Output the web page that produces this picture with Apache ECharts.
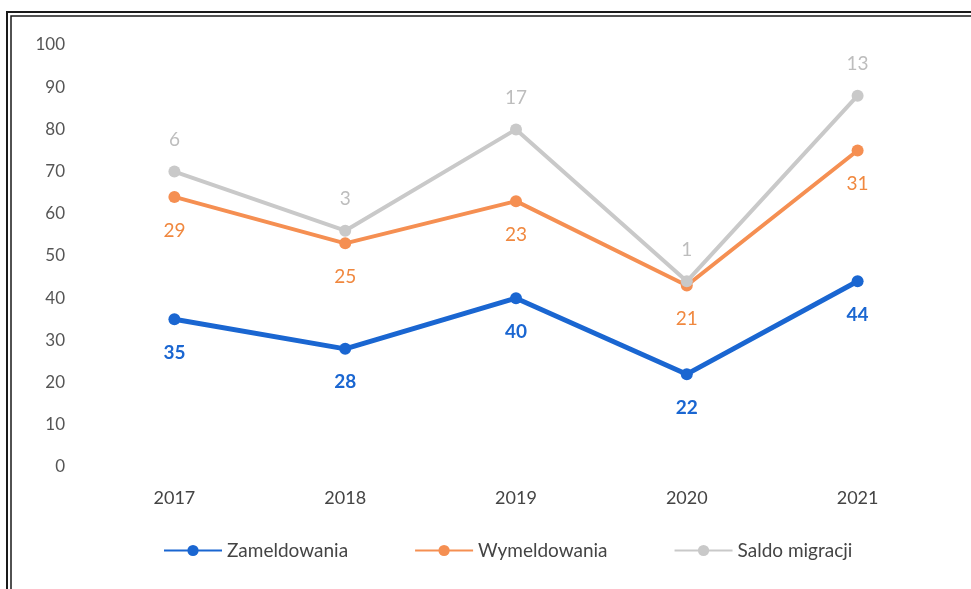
<!DOCTYPE html>
<html>
<head>
<meta charset="utf-8">
<script src="https://cdn.jsdelivr.net/npm/echarts@6/dist/echarts.min.js"></script>
<style>
  html, body { margin: 0; padding: 0; background: #fff; }
  #chart { width: 971px; height: 589px; }
</style>
</head>
<body>
<div id="chart"></div>
<script>
// dane wykresu
var years = ['2017', '2018', '2019', '2020', '2021'];
var zameldowania = [35, 28, 40, 22, 44];
var wymeldowania = [29, 25, 23, 21, 31];
var saldo = [6, 3, 17, 1, 13];
var yTicks = [0, 100, 10]; // min, max, krok

var myChart = echarts.init(document.getElementById('chart'));
var font = 'Lato, "Noto Sans", sans-serif';

var option = {
    animation: false,
    textStyle: { fontFamily: font },
    graphic: [
        { type: 'rect', shape: { x: 7, y: 12, width: 1000, height: 620 }, style: { fill: 'none', stroke: '#1a1a1a', lineWidth: 2 } },
        { type: 'rect', shape: { x: 11, y: 16, width: 1000, height: 620 }, style: { fill: 'none', stroke: '#1a1a1a', lineWidth: 1.5 } }
    ],
    grid: { left: 89, right: 28, top: 45, bottom: 122 },
    legend: {
        bottom: 24,
        left: 158,
        itemWidth: 58,
        itemHeight: 14,
        itemGap: 66,
        textStyle: { color: '#444', fontSize: 19, fontFamily: font },
        data: ['Zameldowania', 'Wymeldowania', 'Saldo migracji']
    },
    xAxis: {
        type: 'category',
        data: years,
        boundaryGap: true,
        axisLine: { show: false },
        axisTick: { show: false },
        axisLabel: { color: '#444', fontSize: 18, margin: 22, fontFamily: font }
    },
    yAxis: {
        type: 'value',
        min: yTicks[0],
        max: yTicks[1],
        interval: yTicks[2],
        splitLine: { show: false },
        axisLine: { show: false },
        axisTick: { show: false },
        axisLabel: { color: '#555', fontSize: 17, margin: 24, fontFamily: font }
    },
    series: [
        {
            name: 'Zameldowania',
            type: 'line',
            stack: 'suma',
            data: zameldowania,
            color: '#1a66d1',
            lineStyle: { width: 5 },
            symbol: 'circle',
            symbolSize: 12,
            label: { show: true, position: 'bottom', distance: 18, color: '#1a66d1', fontWeight: 'bold', fontSize: 19 }
        },
        {
            name: 'Wymeldowania',
            type: 'line',
            stack: 'suma',
            data: wymeldowania,
            color: '#f58f52',
            lineStyle: { width: 4 },
            symbol: 'circle',
            symbolSize: 12,
            label: { show: true, position: 'bottom', distance: 18, color: '#f0883f', fontSize: 19 }
        },
        {
            name: 'Saldo migracji',
            type: 'line',
            stack: 'suma',
            data: saldo,
            color: '#c9c9c9',
            lineStyle: { width: 4 },
            symbol: 'circle',
            symbolSize: 12,
            label: { show: true, position: 'top', distance: 16, color: '#bdbdbd', fontSize: 19 }
        }
    ]
};

myChart.setOption(option);
</script>
</body>
</html>
